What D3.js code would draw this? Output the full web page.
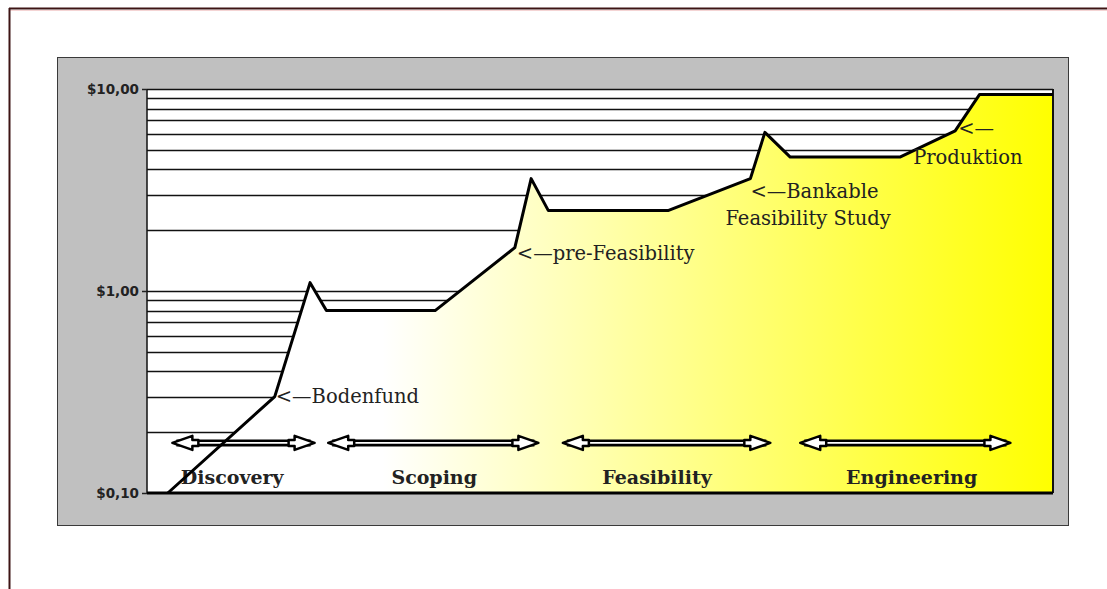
<!DOCTYPE html>
<html>
<head>
<meta charset="utf-8">
<script src="https://cdn.jsdelivr.net/npm/d3@7"></script>
<style>
  body { margin: 0; background: #fff; }
  svg { display: block; }
</style>
</head>
<body>
<svg id="chart" width="1107" height="589"></svg>
<script>
// curve: progress along the project (0-100) vs value per share ($, log scale)
const progress = [2.3, 14.1, 18.0, 19.8, 31.8, 40.6, 42.4, 44.3, 57.5, 66.6, 68.2, 71.0, 83.1, 89.2, 91.9, 100];
const values   = [0.10, 0.30, 1.10, 0.80, 0.80, 1.64, 3.60, 2.50, 2.50, 3.60, 6.10, 4.60, 4.60, 6.20, 9.40, 9.40];

const tickValues = [0.1, 1, 10];
const tickLabels = ["$0,10", "$1,00", "$10,00"];
const gridValues = [0.2, 0.3, 0.4, 0.5, 0.6, 0.7, 0.8, 0.9, 1, 2, 3, 4, 5, 6, 7, 8, 9, 10];

const phases     = ["Discovery", "Scoping", "Feasibility", "Engineering"];
const phaseStart = [2.8, 20.0, 45.9, 72.1];
const phaseEnd   = [18.5, 43.2, 68.8, 95.3];
const phaseMid   = [9.4, 31.7, 56.3, 84.4];

// annotations point at curve vertices
const noteIndex = [1, 5, 9, 13];
const noteLines = [
  ["<—Bodenfund"],
  ["<—pre-Feasibility"],
  ["<—Bankable", "Feasibility Study"],
  ["<—", "Produktion"]
];

const svg = d3.select("#chart");
const W = 1107, H = 589;

const plot = { left: 147, right: 1053, top: 89, bottom: 493 };

const x = d3.scaleLinear().domain([0, 100]).range([plot.left, plot.right]);
const y = d3.scaleLog().domain([0.1, 10]).range([plot.bottom, plot.top]);

const data = progress.map((p, i) => ({ p, v: values[i] }));

// page frame
svg.append("line").attr("x1", 9).attr("x2", W).attr("y1", 8.5).attr("y2", 8.5)
  .attr("stroke", "#3d1414").attr("stroke-width", 2);
svg.append("line").attr("x1", 10).attr("x2", W).attr("y1", 10.5).attr("y2", 10.5)
  .attr("stroke", "#f4d4d4").attr("stroke-width", 1);
svg.append("line").attr("x1", 9.5).attr("x2", 9.5).attr("y1", 8).attr("y2", H)
  .attr("stroke", "#3d1414").attr("stroke-width", 2);

// grey panel
svg.append("rect")
  .attr("x", 57.5).attr("y", 57.5).attr("width", 1011).attr("height", 468)
  .attr("fill", "#c0c0c0").attr("stroke", "#3a3a3a").attr("stroke-width", 1);

// plot background
svg.append("rect")
  .attr("x", plot.left).attr("y", plot.top)
  .attr("width", plot.right - plot.left).attr("height", plot.bottom - plot.top)
  .attr("fill", "#fff");

const defs = svg.append("defs");
const grad = defs.append("linearGradient").attr("id", "fillGrad")
  .attr("gradientUnits", "userSpaceOnUse")
  .attr("x1", plot.left).attr("x2", plot.right).attr("y1", 0).attr("y2", 0);
grad.append("stop").attr("offset", "0%").attr("stop-color", "#ffffff");
grad.append("stop").attr("offset", "26%").attr("stop-color", "#ffffff");
grad.append("stop").attr("offset", "100%").attr("stop-color", "#ffff00");

// grid lines
svg.append("g")
  .selectAll("line")
  .data(gridValues)
  .join("line")
  .attr("x1", plot.left).attr("x2", plot.right)
  .attr("y1", d => Math.round(y(d)) + 0.5).attr("y2", d => Math.round(y(d)) + 0.5)
  .attr("stroke", "#111").attr("stroke-width", 1.6);

// area under curve
const area = d3.area()
  .x(d => x(d.p))
  .y0(plot.bottom)
  .y1(d => y(d.v));

svg.append("path")
  .datum(data)
  .attr("d", area)
  .attr("fill", "url(#fillGrad)");

// plot frame
svg.append("line").attr("x1", plot.left).attr("x2", plot.left)
  .attr("y1", plot.top).attr("y2", plot.bottom)
  .attr("stroke", "#111").attr("stroke-width", 1.5);
svg.append("line").attr("x1", plot.right).attr("x2", plot.right)
  .attr("y1", plot.top).attr("y2", plot.bottom)
  .attr("stroke", "#111").attr("stroke-width", 2);
svg.append("line").attr("x1", plot.left).attr("x2", plot.right)
  .attr("y1", plot.bottom).attr("y2", plot.bottom)
  .attr("stroke", "#000").attr("stroke-width", 3);

// y axis
const yAxis = d3.axisLeft(y)
  .tickValues(tickValues)
  .tickFormat((d, i) => tickLabels[i])
  .tickSize(5)
  .tickPadding(3);

const ga = svg.append("g")
  .attr("transform", `translate(${plot.left},0)`)
  .call(yAxis);
ga.select(".domain").remove();
ga.selectAll(".tick line").attr("stroke", "#222").attr("stroke-width", 1.5);
ga.selectAll(".tick text")
  .attr("font-family", "DejaVu Sans, Verdana, sans-serif")
  .attr("font-weight", "bold")
  .attr("font-size", 13.5)
  .attr("fill", "#222");

// phase arrows
const arrowY = y(0.177);
const serif = "DejaVu Serif, serif";

phases.forEach((name, i) => {
  const x0 = x(phaseStart[i]);
  const x1 = x(phaseEnd[i]);
  const g = svg.append("g");

  g.append("line")
    .attr("x1", x0 + 4).attr("x2", x1 - 4)
    .attr("y1", arrowY).attr("y2", arrowY)
    .attr("stroke", "#000").attr("stroke-width", 7);
  g.append("line")
    .attr("x1", x0 + 16).attr("x2", x1 - 16)
    .attr("y1", arrowY).attr("y2", arrowY)
    .attr("stroke", "#fff").attr("stroke-width", 1.8);

  [[x0, 1], [x1, -1]].forEach(([tip, dir]) => {
    const b = tip + dir * 20;
    g.append("path")
      .attr("d", `M${tip},${arrowY} L${b},${arrowY - 7} L${b},${arrowY - 3} L${b + dir * 6},${arrowY - 3} L${b + dir * 6},${arrowY + 3} L${b},${arrowY + 3} L${b},${arrowY + 7} Z`)
      .attr("fill", "#fff")
      .attr("stroke", "#000")
      .attr("stroke-width", 2.5)
      .attr("stroke-linejoin", "round");
  });

  svg.append("text")
    .attr("x", x(phaseMid[i]))
    .attr("y", y(0.1) - 9)
    .attr("text-anchor", "middle")
    .attr("font-family", serif)
    .attr("font-weight", "bold")
    .attr("font-size", 19)
    .attr("fill", "#222")
    .text(name);
});

// curve
const line = d3.line()
  .x(d => x(d.p))
  .y(d => y(d.v));

svg.append("path")
  .datum(data)
  .attr("d", line)
  .attr("fill", "none")
  .attr("stroke", "#000")
  .attr("stroke-width", 3)
  .attr("stroke-linejoin", "round");

// annotations
const noteOffsets = [
  [[1, 6]],
  [[2, 12]],
  [[0, 19], [-25, 46]],
  [[3, 4], [-42, 33]]
];

noteLines.forEach((lines, i) => {
  const pt = data[noteIndex[i]];
  lines.forEach((t, j) => {
    svg.append("text")
      .attr("x", x(pt.p) + noteOffsets[i][j][0])
      .attr("y", y(pt.v) + noteOffsets[i][j][1])
      .attr("font-family", serif)
      .attr("font-size", 19.5)
      .attr("fill", "#222")
      .text(t);
  });
});
</script>
</body>
</html>
